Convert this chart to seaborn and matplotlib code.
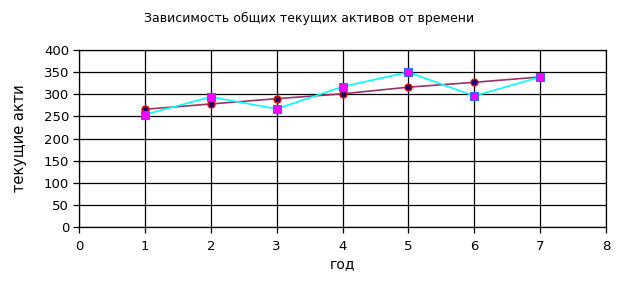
import matplotlib
matplotlib.use("Agg")
import matplotlib.pyplot as plt
import seaborn as sns
import pandas as pd

years = [1, 2, 3, 4, 5, 6, 7]
actual = [254, 294, 267, 317, 350, 296, 339]
trend = [266, 278, 290, 301, 316, 327, 339]

sns.set_theme(style="white")
plt.rcParams['font.family'] = ['DejaVu Sans']
plt.rcParams['text.color'] = 'black'
plt.rcParams['axes.labelcolor'] = 'black'
plt.rcParams['xtick.color'] = 'black'
plt.rcParams['ytick.color'] = 'black'

fig = plt.figure(figsize=(6.18, 2.82), dpi=100)
ax = fig.add_axes([79/618, 55/282, 527/618, 177/282])

df_t = pd.DataFrame({"x": years, "y": trend})
df_a = pd.DataFrame({"x": years, "y": actual})
sns.lineplot(data=df_t, x="x", y="y", ax=ax, color="#993366", lw=1.2,
             marker="o", markersize=5, markerfacecolor="#000080",
             markeredgecolor="#FF0000", markeredgewidth=1)
sns.lineplot(data=df_a, x="x", y="y", ax=ax, color="#00FFFF", lw=1.2,
             marker="s", markersize=6, markerfacecolor="#FF00FF",
             markeredgecolor="#3366FF", markeredgewidth=0.8)

ax.set_xlim(0, 8)
ax.set_ylim(0, 400)
ax.set_xticks(range(0, 9))
ax.set_yticks(range(0, 401, 50))
ax.grid(True, color="black", lw=0.9)
for s in ax.spines.values():
    s.set_visible(True)
    s.set_color("black")
    s.set_linewidth(0.9)
ax.tick_params(axis="both", which="both", length=4, width=0.9, color="black",
               labelcolor="black", labelsize=9.5, direction="out",
               bottom=True, left=True, pad=3)
ax.tick_params(axis="x", pad=5)
ax.set_xlabel("год", fontsize=10, labelpad=3, color="black")
ax.set_ylabel("текущие акти", fontsize=10.5, labelpad=12, color="black")
fig.text(0.5, 1 - 18/282, "Зависимость общих текущих активов от времени",
         ha="center", va="center", fontsize=9, color="black")

fig.savefig("out.png", dpi=100, facecolor="white")
